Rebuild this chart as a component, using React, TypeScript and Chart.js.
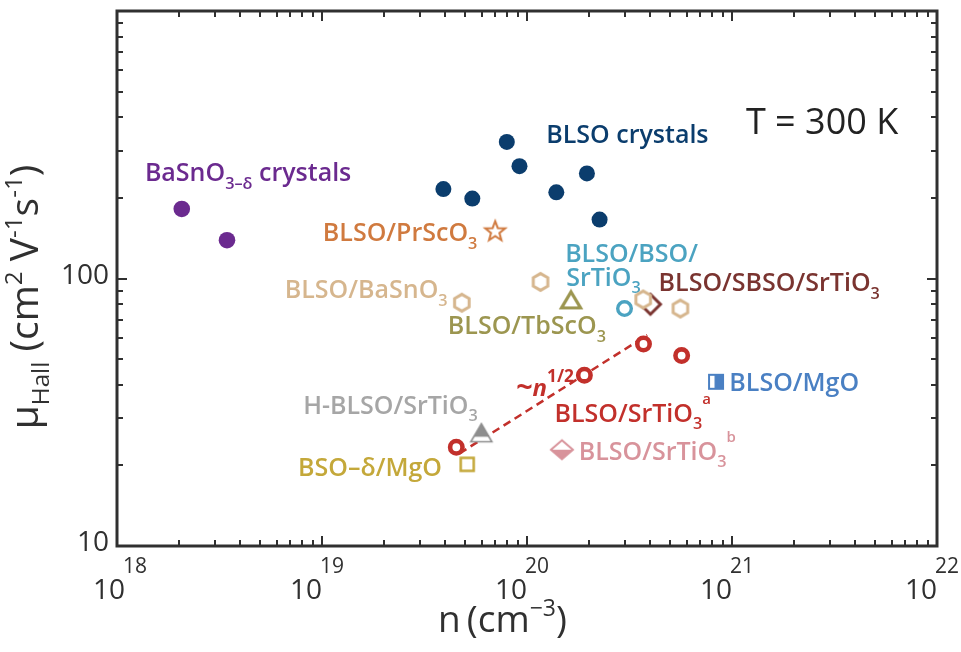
import React, { useEffect, useRef } from 'react';
import { Chart, registerables } from 'chart.js';
Chart.register(...registerables);

const FONT = '"Open Sans", "Noto Sans", "DejaVu Sans", sans-serif';

// ---------- data (n in cm^-3, mobility in cm^2/Vs) ----------
const basnoCrystalN = [2.07e18, 3.44e18];
const basnoCrystalMu = [182, 139];
const blsoCrystalN = [3.91e19, 5.41e19, 7.97e19, 9.19e19, 1.39e20, 1.96e20, 2.26e20];
const blsoCrystalMu = [216, 199, 324, 263, 210, 247, 166];
const prscoN = [7.0e19];
const prscoMu = [151];
const basnoFilmN = [4.81e19, 1.164e20, 3.69e20, 5.6e20];
const basnoFilmMu = [81.2, 97.1, 83.5, 77.2];
const tbscoN = [1.64e20];
const tbscoMu = [82.8];
const bsoStoN = [2.99e20];
const bsoStoMu = [77.2];
const sbsoN = [4.0e20];
const sbsoMu = [80.1];
const stoAN = [4.52e19, 1.905e20, 3.7e20, 5.68e20];
const stoAMu = [23.4, 43.5, 56.9, 51.5];
const hblsoN = [5.99e19];
const hblsoMu = [26.4];
const bsoMgoN = [5.11e19];
const bsoMgoMu = [20.2];
const stoBN = [1.48e20];
const stoBMu = [22.9];
const mgoN = [8.36e20];
const mgoMu = [41.1];
const fitN = [4.69e19, 3.86e20];
const fitMu = [22.2, 61.4];

const xTickExps = [18, 19, 20, 21, 22];
const yTickValues = [10, 100];
const yTickLabels = ['10', '100'];

// ---------- colours ----------
const PURPLE = '#6b2a8f';
const NAVY = '#0b3d6d';
const ORANGE = '#d07a3f';
const TAN = '#d6b68e';
const SKY = '#4ba3c1';
const BROWN = '#7a3430';
const OLIVE = '#9c9650';
const RED = '#c2302b';
const GRAY = '#a6a6a6';
const PINK = '#d8939b';
const GOLD = '#c4a83a';
const MGBLUE = '#4a80c3';
const AXIS = '#303030';

type Seg = { t: string; k?: 'sub' | 'sup'; f?: number; dy?: number; w?: number; i?: boolean };

const annotations: { lx: number; ly: number; size: number; weight: number; color: string; segs: Seg[] }[] = [
  { lx: 18.136, ly: 2.363, size: 25, weight: 600, color: PURPLE, segs: [{ t: 'BaSnO' }, { t: '3\u2013\u03b4', k: 'sub' }, { t: ' crystals' }] },
  { lx: 20.094, ly: 2.508, size: 25, weight: 600, color: NAVY, segs: [{ t: 'BLSO crystals' }] },
  { lx: 21.068, ly: 2.541, size: 36, weight: 400, color: '#222222', segs: [{ t: 'T = 300 K' }] },
  { lx: 19.004, ly: 2.14, size: 25, weight: 600, color: ORANGE, segs: [{ t: 'BLSO/PrScO' }, { t: '3', k: 'sub' }] },
  { lx: 20.186, ly: 2.06, size: 25, weight: 600, color: SKY, segs: [{ t: 'BLSO/BSO/' }] },
  { lx: 20.191, ly: 1.9735, size: 25, weight: 600, color: SKY, segs: [{ t: 'SrTiO' }, { t: '3', k: 'sub' }] },
  { lx: 20.642, ly: 1.953, size: 25, weight: 600, color: BROWN, segs: [{ t: 'BLSO/SBSO/SrTiO' }, { t: '3', k: 'sub' }] },
  { lx: 18.8185, ly: 1.927, size: 25, weight: 600, color: TAN, segs: [{ t: 'BLSO/BaSnO' }, { t: '3', k: 'sub' }] },
  { lx: 19.614, ly: 1.792, size: 25, weight: 600, color: OLIVE, segs: [{ t: 'BLSO/TbScO' }, { t: '3', k: 'sub' }] },
  { lx: 20.987, ly: 1.581, size: 25, weight: 600, color: MGBLUE, segs: [{ t: 'BLSO/MgO' }] },
  { lx: 19.947, ly: 1.56, size: 24, weight: 700, color: RED, segs: [{ t: '~', f: 1.2, dy: 0.05 }, { t: 'n', i: true }, { t: '1/2', k: 'sup', f: 0.72, dy: -0.6 }] },
  { lx: 20.134, ly: 1.464, size: 25, weight: 600, color: RED, segs: [{ t: 'BLSO/SrTiO' }, { t: '3', k: 'sub' }, { t: 'a', k: 'sup', f: 0.6, dy: -0.7 }] },
  { lx: 18.908, ly: 1.495, size: 25, weight: 600, color: GRAY, segs: [{ t: 'H-BLSO/SrTiO' }, { t: '3', k: 'sub' }] },
  { lx: 20.252, ly: 1.323, size: 25, weight: 600, color: PINK, segs: [{ t: 'BLSO/SrTiO' }, { t: '3', k: 'sub' }, { t: 'b', k: 'sup', f: 0.6, dy: -0.7 }] },
  { lx: 18.883, ly: 1.2615, size: 25, weight: 600, color: GOLD, segs: [{ t: 'BSO\u2013\u03b4/MgO' }] },
];

function font(size: number, weight: number, italic = false) {
  return `${italic ? 'italic ' : ''}${weight} ${size}px ${FONT}`;
}

function drawRich(ctx: CanvasRenderingContext2D, x: number, y: number, segs: Seg[], size: number, weight: number, color: string, align: 'left' | 'center' = 'left') {
  const parts = segs.map((s) => {
    const fs = size * (s.f ?? (s.k ? 0.65 : 1));
    const f = font(fs, s.w ?? weight, !!s.i);
    ctx.font = f;
    const w = ctx.measureText(s.t).width;
    const dy = (s.dy ?? (s.k === 'sub' ? 0.3 : s.k === 'sup' ? -0.45 : 0)) * size;
    return { s, f, w, dy };
  });
  const total = parts.reduce((a, p) => a + p.w, 0);
  let cx = align === 'center' ? x - total / 2 : x;
  ctx.fillStyle = color;
  ctx.textBaseline = 'alphabetic';
  ctx.textAlign = 'left';
  for (const p of parts) {
    ctx.font = p.f;
    ctx.fillText(p.s.t, cx, y + p.dy);
    cx += p.w;
  }
}

function makeMarker(w: number, h: number, draw: (g: CanvasRenderingContext2D, cx: number, cy: number) => void) {
  const c = document.createElement('canvas');
  c.width = w;
  c.height = h;
  const g = c.getContext('2d')!;
  draw(g, w / 2, h / 2);
  return c;
}

function poly(g: CanvasRenderingContext2D, p: number[][]) {
  g.beginPath();
  g.moveTo(p[0][0], p[0][1]);
  for (let i = 1; i < p.length; i++) g.lineTo(p[i][0], p[i][1]);
  g.closePath();
}

function buildMarkers() {
  const hex = makeMarker(26, 26, (g, cx, cy) => {
    const p: number[][] = [];
    for (let k = 0; k < 6; k++) {
      const a = (-90 + 60 * k) * Math.PI / 180;
      p.push([cx + 8.4 * Math.cos(a), cy + 8.4 * Math.sin(a)]);
    }
    poly(g, p);
    g.fillStyle = '#fff';
    g.fill();
    g.lineWidth = 3;
    g.strokeStyle = TAN;
    g.stroke();
  });
  const star = makeMarker(28, 28, (g, cx, cy) => {
    const p: number[][] = [];
    for (let k = 0; k < 10; k++) {
      const a = (-90 + 36 * k) * Math.PI / 180;
      const r = k % 2 === 0 ? 10.5 : 4.4;
      p.push([cx + r * Math.cos(a), cy + 1 + r * Math.sin(a)]);
    }
    poly(g, p);
    g.fillStyle = '#fff';
    g.fill();
    g.lineWidth = 2;
    g.lineJoin = 'miter';
    g.strokeStyle = ORANGE;
    g.stroke();
  });
  const tri = makeMarker(30, 28, (g, cx, cy) => {
    poly(g, [[cx, cy - 8.5], [cx + 9.5, cy + 7.5], [cx - 9.5, cy + 7.5]]);
    g.fillStyle = '#fff';
    g.fill();
    g.lineWidth = 3.2;
    g.strokeStyle = OLIVE;
    g.stroke();
  });
  const dia = makeMarker(30, 30, (g, cx, cy) => {
    poly(g, [[cx, cy - 10], [cx + 10, cy], [cx, cy + 10], [cx - 10, cy]]);
    g.lineWidth = 3;
    g.strokeStyle = BROWN;
    g.stroke();
  });
  const grayTri = makeMarker(30, 28, (g, cx, cy) => {
    const p = [[cx, cy - 9.5], [cx + 10.5, cy + 8.5], [cx - 10.5, cy + 8.5]];
    poly(g, p);
    g.fillStyle = '#fff';
    g.fill();
    g.save();
    g.clip();
    g.fillStyle = '#8e8e8e';
    g.fillRect(0, 0, 30, cy + 3.5);
    g.restore();
    g.lineWidth = 1.6;
    g.strokeStyle = '#8e8e8e';
    poly(g, p);
    g.stroke();
  });
  const pinkDia = makeMarker(30, 26, (g, cx, cy) => {
    const p = [[cx, cy - 9.5], [cx + 11, cy], [cx, cy + 9.5], [cx - 11, cy]];
    poly(g, p);
    g.fillStyle = '#fff';
    g.fill();
    g.save();
    g.clip();
    g.fillStyle = PINK;
    g.fillRect(0, cy, 30, 20);
    g.restore();
    poly(g, p);
    g.lineWidth = 2;
    g.strokeStyle = PINK;
    g.stroke();
  });
  const halfSq = makeMarker(22, 22, (g, cx, cy) => {
    g.fillStyle = '#fff';
    g.fillRect(cx - 7, cy - 7, 14, 14);
    g.fillStyle = MGBLUE;
    g.fillRect(cx - 1.5, cy - 7, 8.5, 14);
    g.lineWidth = 2;
    g.strokeStyle = MGBLUE;
    g.strokeRect(cx - 7, cy - 7, 14, 14);
  });
  const goldSq = makeMarker(22, 22, (g, cx, cy) => {
    g.fillStyle = '#fff';
    g.fillRect(cx - 6.5, cy - 6.5, 13, 13);
    g.lineWidth = 2.5;
    g.strokeStyle = GOLD;
    g.strokeRect(cx - 6.5, cy - 6.5, 13, 13);
  });
  return { hex, star, tri, dia, grayTri, pinkDia, halfSq, goldSq };
}

function pts(xs: number[], ys: number[]) {
  return xs.map((x, i) => ({ x, y: ys[i] }));
}

const decorPlugin = {
  id: 'decor',
  beforeDatasetsDraw(chart: any) {
    const ctx: CanvasRenderingContext2D = chart.ctx;
    const xs = chart.scales.x;
    const ys = chart.scales.y;
    ctx.save();
    for (const a of annotations) {
      const px = xs.getPixelForValue(Math.pow(10, a.lx));
      const py = ys.getPixelForValue(Math.pow(10, a.ly));
      drawRich(ctx, px, py, a.segs, a.size, a.weight, a.color);
    }
    ctx.restore();
  },
  afterDraw(chart: any) {
    const ctx: CanvasRenderingContext2D = chart.ctx;
    const { left, right, top, bottom } = chart.chartArea;
    const xs = chart.scales.x;
    const ys = chart.scales.y;
    ctx.save();
    ctx.strokeStyle = AXIS;
    // ticks (inward, mirrored on all sides)
    ctx.lineWidth = 2;
    ctx.beginPath();
    for (let e = 18; e <= 22; e++) {
      for (let m = 1; m <= 9; m++) {
        const v = m * Math.pow(10, e);
        if (v > 1e22 * 1.0001) break;
        const px = Math.round(xs.getPixelForValue(v));
        const len = m === 1 ? 10 : 6;
        ctx.moveTo(px, bottom);
        ctx.lineTo(px, bottom - len);
        ctx.moveTo(px, top);
        ctx.lineTo(px, top + len);
      }
    }
    for (let e = 1; e <= 3; e++) {
      for (let m = 1; m <= 9; m++) {
        const v = m * Math.pow(10, e);
        if (v > 1000 * 1.0001) break;
        const py = Math.round(ys.getPixelForValue(v));
        const len = m === 1 ? 10 : 6;
        ctx.moveTo(left, py);
        ctx.lineTo(left + len, py);
        ctx.moveTo(right, py);
        ctx.lineTo(right - len, py);
      }
    }
    ctx.stroke();
    // frame
    ctx.lineWidth = 3;
    ctx.strokeRect(left, top, right - left, bottom - top);

    // y tick labels
    ctx.fillStyle = AXIS;
    ctx.font = font(28, 400);
    ctx.textAlign = 'right';
    ctx.textBaseline = 'alphabetic';
    yTickValues.forEach((v, i) => {
      const py = ys.getPixelForValue(v);
      ctx.fillText(yTickLabels[i], left - 8, py + 5);
    });
    // x tick labels: 10^e
    xTickExps.forEach((e, i) => {
      const px = xs.getPixelForValue(Math.pow(10, e)) + (i === 0 ? 8 : 0);
      ctx.font = font(28, 400);
      ctx.textAlign = 'right';
      ctx.fillText('10', px, bottom + 53);
      ctx.font = font(21, 400);
      ctx.textAlign = 'left';
      ctx.fillText(String(e), px - 2, bottom + 27);
    });

    // x title
    const cx = xs.getPixelForValue(Math.pow(10, 19.88));
    drawRich(ctx, cx, bottom + 86, [{ t: 'n\u2009(cm' }, { t: '\u22123', k: 'sup', f: 0.62, dy: -0.42 }, { t: ')' }], 37, 400, AXIS, 'center');

    // y title
    ctx.translate(38, 297);
    ctx.rotate(-Math.PI / 2);
    drawRich(ctx, 0, 0, [
      { t: '\u03bc' },
      { t: 'Hall', k: 'sub', f: 0.62, dy: 0.28 },
      { t: ' (cm' },
      { t: '2', k: 'sup', f: 0.62, dy: -0.42 },
      { t: ' V' },
      { t: '-1', k: 'sup', f: 0.62, dy: -0.42 },
      { t: 's' },
      { t: '-1', k: 'sup', f: 0.62, dy: -0.42 },
      { t: ')' },
    ], 39, 400, AXIS, 'center');
    ctx.restore();
  },
};

export default function App() {
  const ref = useRef<HTMLCanvasElement | null>(null);
  useEffect(() => {
    if (!ref.current) return;
    const mk = buildMarkers();
    const chart = new Chart(ref.current, {
      type: 'scatter',
      data: {
        datasets: [
          {
            type: 'line', label: 'fit', data: pts(fitN, fitMu), borderColor: RED, borderWidth: 2.5,
            borderDash: [8, 5], pointRadius: 0, fill: false, order: 10,
          } as any,
          { label: 'BaSnO3 crystals', data: pts(basnoCrystalN, basnoCrystalMu), pointStyle: 'circle', pointRadius: 8.3, backgroundColor: PURPLE, borderWidth: 0 },
          { label: 'BLSO crystals', data: pts(blsoCrystalN, blsoCrystalMu), pointStyle: 'circle', pointRadius: 8, backgroundColor: NAVY, borderWidth: 0 },
          { label: 'BLSO/PrScO3', data: pts(prscoN, prscoMu), pointStyle: mk.star as any, pointRadius: 10 },
          { label: 'BLSO/BaSnO3', data: pts(basnoFilmN, basnoFilmMu), pointStyle: mk.hex as any, pointRadius: 9 },
          { label: 'BLSO/TbScO3', data: pts(tbscoN, tbscoMu), pointStyle: mk.tri as any, pointRadius: 9 },
          { label: 'BLSO/BSO/SrTiO3', data: pts(bsoStoN, bsoStoMu), pointStyle: 'circle', pointRadius: 6.8, backgroundColor: '#fff', borderColor: SKY, borderWidth: 3.4 },
          { label: 'BLSO/SBSO/SrTiO3', data: pts(sbsoN, sbsoMu), pointStyle: mk.dia as any, pointRadius: 10 },
          { label: 'BLSO/SrTiO3 a', data: pts(stoAN, stoAMu), pointStyle: 'circle', pointRadius: 6.2, backgroundColor: '#fff', borderColor: RED, borderWidth: 4.6 },
          { label: 'H-BLSO/SrTiO3', data: pts(hblsoN, hblsoMu), pointStyle: mk.grayTri as any, pointRadius: 9 },
          { label: 'BSO-d/MgO', data: pts(bsoMgoN, bsoMgoMu), pointStyle: mk.goldSq as any, pointRadius: 7 },
          { label: 'BLSO/SrTiO3 b', data: pts(stoBN, stoBMu), pointStyle: mk.pinkDia as any, pointRadius: 10 },
          { label: 'BLSO/MgO', data: pts(mgoN, mgoMu), pointStyle: mk.halfSq as any, pointRadius: 7 },
        ],
      },
      options: {
        responsive: false,
        animation: false,
        devicePixelRatio: 1,
        layout: { padding: { left: 117, right: 24, top: 3, bottom: 106 } },
        scales: {
          x: { type: 'logarithmic', min: 1e18, max: 1e22, display: false },
          y: { type: 'logarithmic', min: 10, max: 1000, display: false },
        },
        plugins: { legend: { display: false }, tooltip: { enabled: false } },
        events: [],
      },
      plugins: [decorPlugin],
    });
    return () => chart.destroy();
  }, []);
  return (
    <div style={{ position: 'fixed', left: 0, top: 0, width: 961, height: 652, background: '#fff' }}>
      <canvas ref={ref} width={961} height={652} style={{ display: 'block', width: 961, height: 652 }} />
    </div>
  );
}
